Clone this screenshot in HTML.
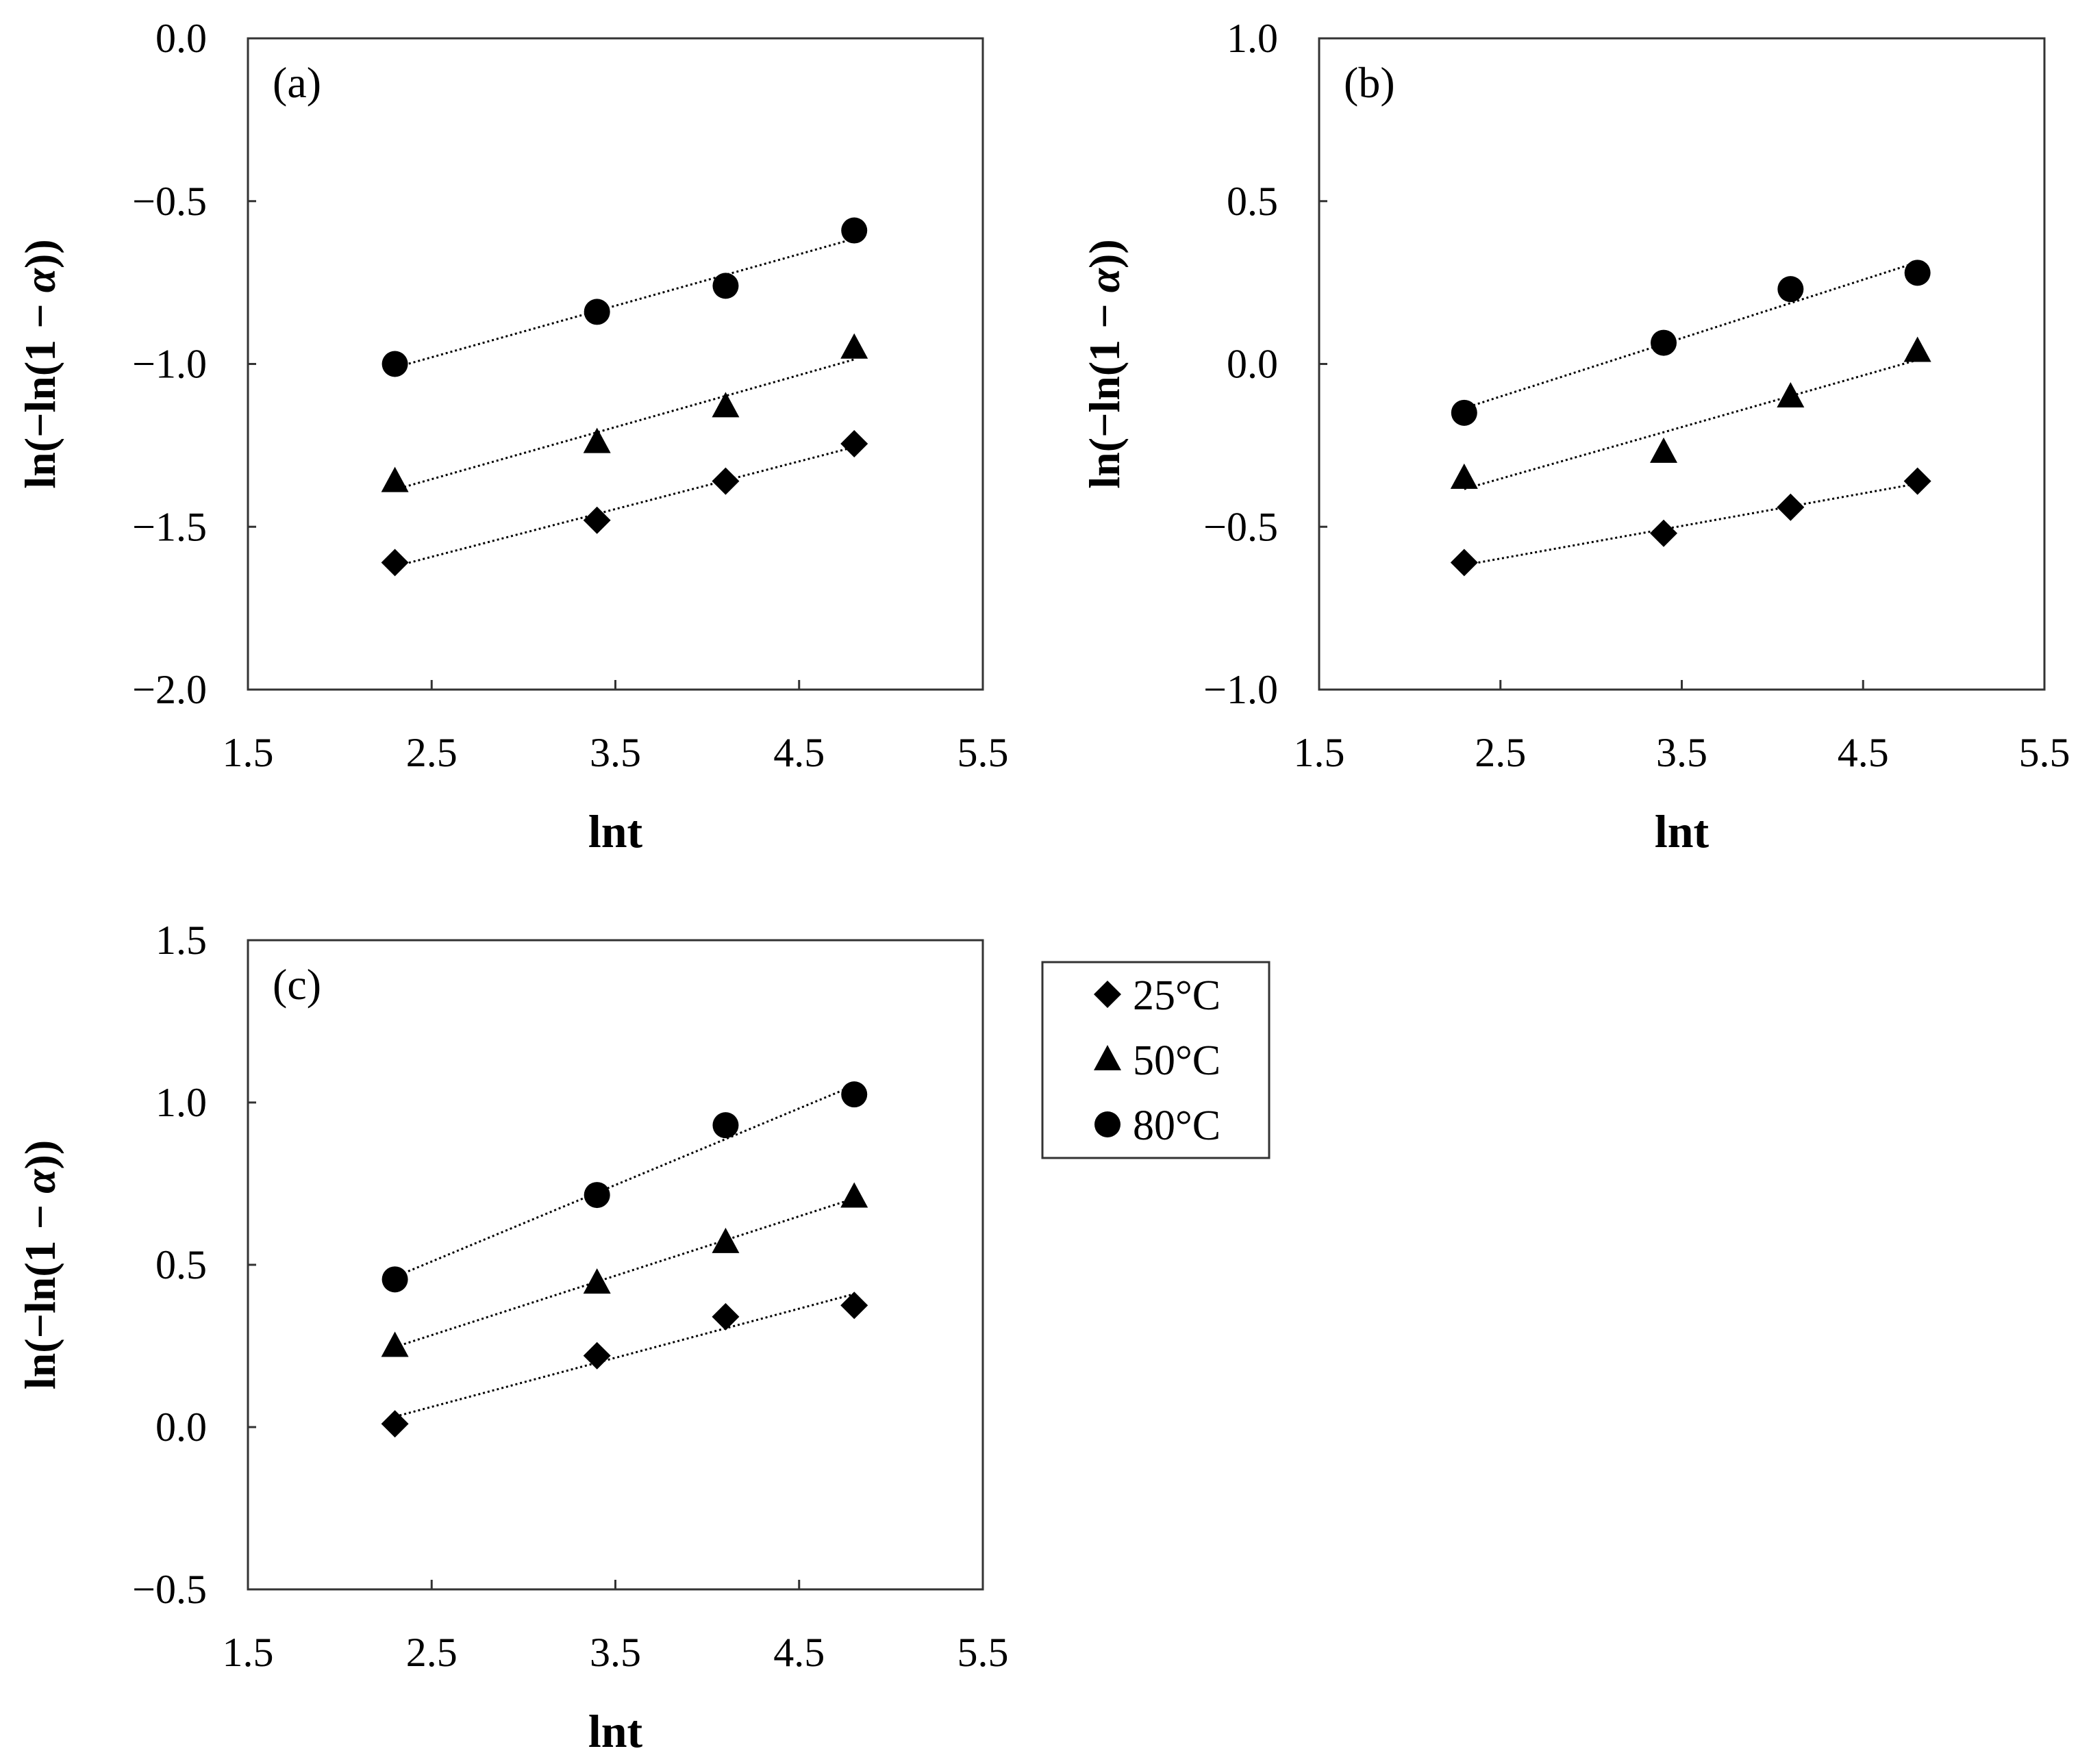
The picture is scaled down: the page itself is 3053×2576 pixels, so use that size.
<!DOCTYPE html>
<html><head><meta charset="utf-8"><style>
html,body{margin:0;padding:0;background:#fff}
svg{display:block}
text{font-family:"Liberation Serif",serif;fill:#000}
</style></head><body>
<svg id="s" width="3053" height="2576" viewBox="0 0 3053 2576" xmlns="http://www.w3.org/2000/svg"></svg>
<script>
const xVals=[2.3,3.4,4.1,4.8];
const seriesNames=["25°C","50°C","80°C"];
const aS25=[-1.61,-1.48,-1.36,-1.245];
const aS50=[-1.36,-1.24,-1.13,-0.95];
const aS80=[-1.0,-0.84,-0.76,-0.59];
const bS25=[-0.61,-0.52,-0.44,-0.36];
const bS50=[-0.35,-0.27,-0.10,0.04];
const bS80=[-0.15,0.065,0.23,0.28];
const cS25=[0.01,0.22,0.34,0.375];
const cS50=[0.25,0.445,0.57,0.71];
const cS80=[0.455,0.715,0.93,1.025];
const xTicks=[1.5,2.5,3.5,4.5,5.5];
const aYTicks=[-2.0,-1.5,-1.0,-0.5,0.0];
const bYTicks=[-1.0,-0.5,0.0,0.5,1.0];
const cYTicks=[-0.5,0.0,0.5,1.0,1.5];

const NS="http://www.w3.org/2000/svg";
const svg=document.getElementById('s');
function mk(tag,attrs,parent){const e=document.createElementNS(NS,tag);for(const k in attrs)e.setAttribute(k,attrs[k]);(parent||svg).appendChild(e);return e;}
function fmt(v){return (v<0?"\u2212":"")+Math.abs(v).toFixed(1);}
const shapes=["diamond","triangle","circle"];
function marker(g,shape,cx,cy){
  let e;
  if(shape==="circle")e=mk('circle',{cx:cx,cy:cy,r:19,fill:'#000'},g);
  else if(shape==="diamond")e=mk('polygon',{points:`${cx},${cy-20} ${cx+20},${cy} ${cx},${cy+20} ${cx-20},${cy}`,fill:'#000'},g);
  else e=mk('polygon',{points:`${cx},${cy-21} ${cx+20},${cy+16} ${cx-20},${cy+16}`,fill:'#000'},g);
  return e;
}
function panel(id,L,R,T,B,yTicks,series,label,ylabX){
  const g=mk('g',{});
  
  
  const y0=yTicks[0],y1=yTicks[yTicks.length-1];
  const sx=v=>L+(v-1.5)/(5.5-1.5)*(R-L);
  const sy=v=>B-(v-y0)/(y1-y0)*(B-T);
  const frame=mk('rect',{x:L,y:T,width:R-L,height:B-T,fill:'none',stroke:'#333',"stroke-width":3},g);
  
  
  xTicks.forEach(v=>{
    const x=sx(v);
    if(v>1.5&&v<5.5){const t=mk('line',{x1:x,x2:x,y1:B,y2:B-14,stroke:'#333',"stroke-width":3},g);
      }
    const tl=mk('text',{x:x,y:B+112,"font-size":60,"text-anchor":"middle"},g);tl.textContent=v.toFixed(1);
    
    
  });
  yTicks.forEach(v=>{
    const y=sy(v);
    const t=mk('line',{x1:L,x2:L+12,y1:y,y2:y,stroke:'#333',"stroke-width":3},g);
    
    const tl=mk('text',{x:L-60,y:y+20,"font-size":60,"text-anchor":"end"},g);tl.textContent=fmt(v);
    
    
  });
  series.forEach((ys,si)=>{
    const n=xVals.length;let mx=0,my=0;xVals.forEach((x,i)=>{mx+=x;my+=ys[i];});mx/=n;my/=n;
    let num=0,den=0;xVals.forEach((x,i)=>{num+=(x-mx)*(ys[i]-my);den+=(x-mx)*(x-mx);});
    const b=num/den,a=my-b*mx;const xa=xVals[0],xb=xVals[n-1];
    const ln=mk('line',{x1:sx(xa),y1:sy(a+b*xa),x2:sx(xb),y2:sy(a+b*xb),stroke:'#000',"stroke-width":3,"stroke-dasharray":"3,4"},g);
    
    
    ys.forEach((v,i)=>{
      const m=marker(g,shapes[si],sx(xVals[i]),sy(v));
      
      
    });
  });
  const pl=mk('text',{x:L+36,y:T+86,"font-size":64},g);pl.textContent=label;
  
  
  const xt=mk('text',{x:(L+R)/2,y:B+230,"font-size":68,"font-weight":"bold","text-anchor":"middle"},g);xt.textContent="lnt";
  
  
  const cy=(T+B)/2;
  const yt=mk('text',{x:ylabX,y:cy,"font-size":64,"font-weight":"bold","text-anchor":"middle",transform:`rotate(-90 ${ylabX} ${cy})`},g);
  
  
  yt.appendChild(document.createTextNode("ln(\u2212ln(1 \u2212 "));
  const al=mk('tspan',{"font-style":"italic"},yt);al.textContent="\u03b1";
  yt.appendChild(document.createTextNode("))"));
}
panel('a',362,1435,56,1007,aYTicks,[aS25,aS50,aS80],"(a)",80);
panel('b',1926,2985,56,1007,bYTicks,[bS25,bS50,bS80],"(b)",1634);
panel('c',362,1435,1373,2321,cYTicks,[cS25,cS50,cS80],"(c)",80);

const lg=mk('g',{});


mk('rect',{x:1522,y:1405,width:331,height:286,fill:'#fff',stroke:'#333',"stroke-width":3},lg);
[1452,1547,1642].forEach((y,i)=>{
  const e=mk('g',{},lg);
  
  
  marker(e,shapes[i],1617,y);
  const t=mk('text',{x:1654,y:y+22,"font-size":62},e);t.textContent=seriesNames[i];
});
</script>
</body></html>
